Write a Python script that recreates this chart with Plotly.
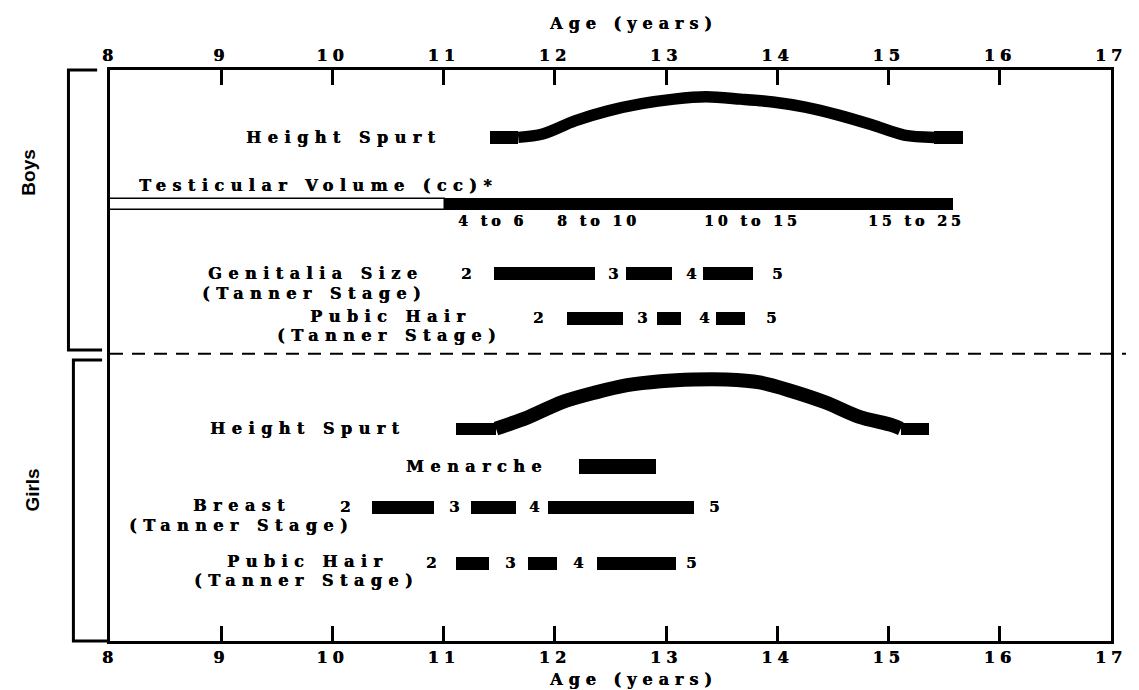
import plotly.graph_objects as go

# ---------------- data ----------------
AGE_TICKS = [8, 9, 10, 11, 12, 13, 14, 15, 16, 17]
AGE_TICK_TEXT = ["8", "9", "10", "11", "12", "13", "14", "15", "16", "17"]
STAGE_LABELS = ["2", "3", "4", "5"]

# Boys - height spurt (age, rise of the curve above its baseline)
boys_hs_age = [11.67, 11.89, 12.18, 12.47, 12.78, 13.07, 13.36, 13.67, 13.96, 14.25, 14.55, 14.85, 15.14, 15.41]
boys_hs_rise = [0.0, 0.6, 2.9, 4.6, 5.9, 6.7, 7.1, 6.7, 6.2, 5.3, 3.9, 2.2, 0.4, 0.0]
boys_hs_start_block = [11.42, 11.67]
boys_hs_end_block = [15.41, 15.67]

# Boys - testicular volume
testis_prepubertal = [8.0, 11.01]
testis_pubertal = [11.01, 15.58]
testis_volume_labels = ["4 to 6", "8 to 10", "10 to 15", "15 to 25"]
testis_volume_age = [11.42, 12.37, 13.76, 15.23]

# Boys - genitalia size (Tanner stage)
genitalia_start = [11.45, 12.64, 13.33]
genitalia_end = [12.36, 13.05, 13.78]
genitalia_stage_age = [11.20, 12.52, 13.22, 14.00]

# Boys - pubic hair (Tanner stage)
boys_pubic_start = [12.11, 12.92, 13.45]
boys_pubic_end = [12.61, 13.13, 13.71]
boys_pubic_stage_age = [11.85, 12.78, 13.34, 13.94]

# Girls - height spurt
girls_hs_age = [11.47, 11.76, 12.06, 12.36, 12.65, 12.95, 13.25, 13.54, 13.84, 14.14, 14.43, 14.73, 15.03, 15.11]
girls_hs_rise = [0.0, 2.0, 4.6, 6.3, 7.6, 8.3, 8.6, 8.6, 8.1, 6.5, 4.6, 2.1, 0.6, 0.0]
girls_hs_start_block = [11.11, 11.47]
girls_hs_end_block = [15.11, 15.36]

# Girls - menarche
menarche = [12.22, 12.91]

# Girls - breast (Tanner stage)
breast_start = [10.36, 11.25, 11.94]
breast_end = [10.91, 11.65, 13.25]
breast_stage_age = [10.11, 11.09, 11.81, 13.43]

# Girls - pubic hair (Tanner stage)
girls_pubic_start = [11.11, 11.76, 12.38]
girls_pubic_end = [11.41, 12.02, 13.09]
girls_pubic_stage_age = [10.89, 11.60, 12.21, 13.22]

# ---------------- layout constants ----------------
W, H = 1139, 690
ML, MR, MT, MB = 110, 17, 70, 49
PX_PER_Y = (H - MT - MB) / 100.0

ROW = dict(boys_hs=88.2, testis=76.5, genitalia=64.3, boys_pubic=56.5,
           girls_hs=37.2, menarche=30.6, breast=23.4, girls_pubic=13.6)
DIVIDER_Y = 50.3

SERIF = "DejaVu Serif, Liberation Serif, serif"
SP = 6.5  # letter spacing px
BOLDEN = "0.6px 0px 0px #000"


def spaced(t, sp=SP):
    return '<span style="letter-spacing:%spx">%s</span>' % (sp, t)


fig = go.Figure()


def add_bars(starts, ends, row, h_px, color="black", line_w=0):
    fig.add_trace(go.Bar(
        orientation="h", base=starts, x=[e - s for s, e in zip(starts, ends)],
        y=[row] * len(starts), width=h_px / PX_PER_Y,
        marker=dict(color=color, line=dict(color="black", width=line_w)),
        showlegend=False, hoverinfo="skip"))


def add_curve(ages, rises, row, w):
    fig.add_trace(go.Scatter(
        x=ages, y=[row + r for r in rises], mode="lines",
        line=dict(color="black", width=w, shape="spline", smoothing=0.9),
        showlegend=False, hoverinfo="skip"))


# Boys
add_bars([boys_hs_start_block[0], boys_hs_end_block[0]],
         [boys_hs_start_block[1], boys_hs_end_block[1]], ROW["boys_hs"], 13)
add_curve(boys_hs_age, boys_hs_rise, ROW["boys_hs"], 11.5)
add_bars([testis_prepubertal[0]], [testis_prepubertal[1]], ROW["testis"], 11, color="white", line_w=1.5)
add_bars([testis_pubertal[0]], [testis_pubertal[1]], ROW["testis"], 12)
add_bars(genitalia_start, genitalia_end, ROW["genitalia"], 13)
add_bars(boys_pubic_start, boys_pubic_end, ROW["boys_pubic"], 13)

# Girls
add_bars([girls_hs_start_block[0], girls_hs_end_block[0]],
         [girls_hs_start_block[1], girls_hs_end_block[1]], ROW["girls_hs"], 12)
add_curve(girls_hs_age, girls_hs_rise, ROW["girls_hs"], 14)
add_bars([menarche[0]], [menarche[1]], ROW["menarche"], 15)
add_bars(breast_start, breast_end, ROW["breast"], 13)
add_bars(girls_pubic_start, girls_pubic_end, ROW["girls_pubic"], 13)

# invisible trace carrying the top axis
fig.add_trace(go.Scatter(x=[AGE_TICKS[0], AGE_TICKS[-1]], y=[-50, -50], xaxis="x2",
                         mode="markers", marker=dict(opacity=0), showlegend=False, hoverinfo="skip"))

ann = []


def txt(text, x, y, size=16, xanchor="center", sp=SP):
    ann.append(dict(text=spaced(text, sp), x=x, y=y, xref="x", yref="y", showarrow=False,
                    xanchor=xanchor, yanchor="middle", xshift=(sp / 2 if xanchor == "center" else 0),
                    font=dict(family=SERIF, size=size, color="black", weight="bold", shadow=BOLDEN)))


# row labels
txt("Height Spurt", 10.07, 88.1)
txt("Testicular Volume (cc)*", 8.24, 79.7, xanchor="left")
txt("Genitalia Size", 9.82, 64.3)
txt("(Tanner Stage)", 9.81, 60.9)
txt("Pubic Hair", 10.49, 56.9)
txt("(Tanner Stage)", 10.48, 53.5)
txt("Height Spurt", 9.75, 37.2)
txt("Menarche", 11.27, 30.6)
txt("Breast", 9.16, 23.7)
txt("(Tanner Stage)", 9.15, 20.3)
txt("Pubic Hair", 9.75, 14.0)
txt("(Tanner Stage)", 9.74, 10.6)

for lab, a in zip(testis_volume_labels, testis_volume_age):
    txt(lab, a, 73.6, size=14, sp=4)
for ages, row in [(genitalia_stage_age, "genitalia"), (boys_pubic_stage_age, "boys_pubic"),
                  (breast_stage_age, "breast"), (girls_pubic_stage_age, "girls_pubic")]:
    for lab, a in zip(STAGE_LABELS, ages):
        txt(lab, a, ROW[row], size=15, sp=0)

# axis titles
for yv in [1.082, -0.068]:
    ann.append(dict(text=spaced("Age (years)", 6), x=0.52, y=yv, xref="paper", yref="paper",
                    showarrow=False, xanchor="center", yanchor="middle", xshift=3,
                    font=dict(family=SERIF, size=16, color="black", weight="bold", shadow=BOLDEN)))
# Boys / Girls
SANS_N = "Liberation Sans Narrow, Liberation Sans, sans-serif"
ann.append(dict(text="Boys", x=-0.081, y=0.82, xref="paper", yref="paper", showarrow=False,
                xanchor="center", yanchor="middle", textangle=-90,
                font=dict(family=SANS_N, size=19, color="black", weight="bold")))
ann.append(dict(text="Girls", x=-0.077, y=0.265, xref="paper", yref="paper", showarrow=False,
                xanchor="center", yanchor="middle", textangle=-90,
                font=dict(family=SANS_N, size=19, color="black", weight="bold")))

shapes = []
# divider between boys and girls
shapes.append(dict(type="line", xref="paper", yref="y", x0=0, x1=1.015, y0=DIVIDER_Y, y1=DIVIDER_Y,
                   line=dict(color="black", width=2, dash="13px,9px")))


def px2paper_x(px):
    return (px - ML) / (W - ML - MR)


def py2paper_y(py):
    return (H - MB - py) / (H - MT - MB)


def bracket(xv, xt, xb, yt, yb):
    return dict(type="path", xref="paper", yref="paper",
                path="M %f,%f L %f,%f L %f,%f L %f,%f" % (
                    px2paper_x(xt), py2paper_y(yt), px2paper_x(xv), py2paper_y(yt),
                    px2paper_x(xv), py2paper_y(yb), px2paper_x(xb), py2paper_y(yb)),
                line=dict(color="black", width=3))


shapes.append(bracket(68, 97, 102, 70, 350))
shapes.append(bracket(73, 102, 107, 360, 641))

tickfont = dict(family=SERIF, size=16, color="black", weight="bold", shadow=BOLDEN)
axis_common = dict(range=[8, 17], tickvals=AGE_TICKS, ticktext=[spaced(t, 5) for t in AGE_TICK_TEXT],
                   ticks="inside", ticklen=15, tickwidth=3, tickcolor="black",
                   showline=True, linewidth=3, linecolor="black", showgrid=False, zeroline=False,
                   tickfont=tickfont)

fig.update_layout(
    width=W, height=H, margin=dict(l=ML, r=MR, t=MT, b=MB, pad=0),
    paper_bgcolor="white", plot_bgcolor="white", barmode="overlay", bargap=0,
    xaxis=dict(**axis_common, side="bottom"),
    xaxis2=dict(**axis_common, side="top", overlaying="x", matches="x", anchor="y"),
    yaxis=dict(range=[0, 100], showline=True, linewidth=3, linecolor="black", mirror=True,
               showticklabels=False, ticks="", showgrid=False, zeroline=False, fixedrange=True),
    annotations=ann, shapes=shapes, showlegend=False,
)

fig.write_html("out.html", config={"displayModeBar": False},
               post_script="document.body.style.margin='0px';")
